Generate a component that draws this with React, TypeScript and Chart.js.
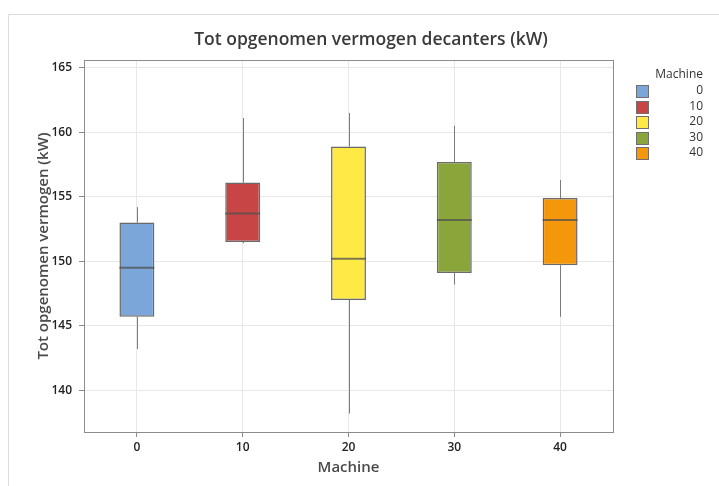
import React, { useEffect, useRef } from "react";
import { Chart, registerables } from "chart.js";

Chart.register(...registerables);

const chartTitle = "Tot opgenomen vermogen decanters (kW)";
const xTitle = "Machine";
const yTitle = "Tot opgenomen vermogen (kW)";
const legendTitle = "Machine";
const categories = ["0", "10", "20", "30", "40"];
const whiskerLow = [143.2, 151.4, 138.2, 148.2, 145.7];
const q1 = [145.7, 151.5, 147.0, 149.1, 149.7];
const median = [149.5, 153.7, 150.2, 153.2, 153.2];
const q3 = [153.0, 156.1, 158.9, 157.7, 154.9];
const whiskerHigh = [154.2, 161.1, 161.5, 160.5, 156.3];
const boxColors = ["#7BA6DA", "#C84545", "#FFE945", "#8AA63A", "#F5970B"];
const yTickValues = [140, 145, 150, 155, 160, 165];

const FONT = "'Open Sans', 'Noto Sans', sans-serif";

const boxPlugin = {
  id: "boxExtras",
  beforeDraw(chart: any) {
    const ctx = chart.ctx;
    ctx.save();
    ctx.fillStyle = "#ffffff";
    ctx.fillRect(0, 0, chart.width, chart.height);
    ctx.strokeStyle = "#dcdcdc";
    ctx.lineWidth = 1;
    ctx.beginPath();
    ctx.moveTo(8.5, chart.height);
    ctx.lineTo(8.5, 14.5);
    ctx.lineTo(chart.width, 14.5);
    ctx.stroke();
    ctx.fillStyle = "#3a3a3a";
    ctx.font = `600 17.5px ${FONT}`;
    ctx.textAlign = "center";
    ctx.textBaseline = "middle";
    ctx.fillText(chartTitle, 371, 40);
    ctx.restore();
  },
  beforeDatasetsDraw(chart: any) {
    const ctx = chart.ctx;
    const y = chart.scales.y;
    const meta = chart.getDatasetMeta(0);
    ctx.save();
    ctx.strokeStyle = "#7a7a7a";
    ctx.lineWidth = 1;
    meta.data.forEach((el: any, i: number) => {
      const x = Math.round(el.x) + 0.5;
      ctx.beginPath();
      ctx.moveTo(x, y.getPixelForValue(whiskerHigh[i]));
      ctx.lineTo(x, y.getPixelForValue(q3[i]));
      ctx.moveTo(x, y.getPixelForValue(q1[i]));
      ctx.lineTo(x, y.getPixelForValue(whiskerLow[i]));
      ctx.stroke();
    });
    ctx.restore();
  },
  afterDatasetsDraw(chart: any) {
    const ctx = chart.ctx;
    const y = chart.scales.y;
    const meta = chart.getDatasetMeta(0);
    ctx.save();
    ctx.strokeStyle = "rgba(80,80,80,0.75)";
    ctx.lineWidth = 2;
    meta.data.forEach((el: any, i: number) => {
      const py = y.getPixelForValue(median[i]);
      ctx.beginPath();
      ctx.moveTo(el.x - el.width / 2, py);
      ctx.lineTo(el.x + el.width / 2, py);
      ctx.stroke();
    });
    const a = chart.chartArea;
    ctx.strokeStyle = "#8c8c8c";
    ctx.lineWidth = 1;
    ctx.strokeRect(Math.round(a.left) + 0.5, Math.round(a.top) + 0.5, Math.round(a.right - a.left), Math.round(a.bottom - a.top));
    ctx.fillStyle = "#333333";
    ctx.font = `12px ${FONT}`;
    ctx.textAlign = "right";
    ctx.textBaseline = "middle";
    ctx.fillText(legendTitle, 703, 75);
    categories.forEach((c, i) => {
      const cy = 91 + i * 15.5;
      ctx.fillStyle = boxColors[i];
      ctx.fillRect(636, Math.round(cy - 6), 13, 13);
      ctx.strokeStyle = "#6f6f6f";
      ctx.strokeRect(636.5, Math.round(cy - 6) + 0.5, 12, 12);
      ctx.fillStyle = "#333333";
      ctx.fillText(c, 703, cy);
    });
    ctx.restore();
  },
};

export default function App() {
  const ref = useRef<HTMLCanvasElement | null>(null);
  useEffect(() => {
    document.body.style.margin = "0";
    const canvas = ref.current!;
    const chart = new Chart(canvas, {
      type: "bar",
      data: {
        labels: categories,
        datasets: [
          {
            label: "Box",
            data: q1.map((v, i) => [v, q3[i]]) as any,
            backgroundColor: boxColors,
            borderColor: "#6a6a6a",
            borderWidth: 1.5,
            borderSkipped: false,
            barPercentage: 0.33,
            categoryPercentage: 1,
          },
        ],
      },
      options: {
        animation: false,
        responsive: false,
        layout: { padding: { top: 60, right: 106, left: 0, bottom: 0 } },
        plugins: {
          legend: { display: false },
          title: { display: false },
          tooltip: { enabled: false },
        },
        scales: {
          x: {
            offset: true,
            grid: { color: "#e8e8e8", offset: false, tickColor: "#8c8c8c", tickLength: 5 },
            border: { color: "#8c8c8c" },
            ticks: { color: "#222", font: { family: FONT, size: 12, weight: "600" }, padding: 3 },
            title: { display: true, text: xTitle, color: "#4a4a4a", font: { family: FONT, size: 15, weight: "600" }, padding: { top: 0, bottom: 9 } },
            afterFit: (s: any) => { s.height = 54; },
          },
          y: {
            min: 136.77,
            max: 165.6,
            afterBuildTicks: (s: any) => { s.ticks = yTickValues.map((v) => ({ value: v })); },
            grid: { color: "#e8e8e8", tickColor: "#8c8c8c", tickLength: 5 },
            border: { color: "#8c8c8c" },
            ticks: { color: "#222", font: { family: FONT, size: 12, weight: "600" }, padding: 7 },
            title: { display: true, text: yTitle, color: "#4a4a4a", font: { family: FONT, size: 15, weight: "600" }, padding: { top: 35, bottom: 0 } },
            afterFit: (s: any) => { s.width = 84; },
          },
        },
      },
      plugins: [boxPlugin],
    });
    return () => chart.destroy();
  }, []);
  return <canvas ref={ref} width={719} height={486} style={{ display: "block", width: 719, height: 486 }} />;
}
